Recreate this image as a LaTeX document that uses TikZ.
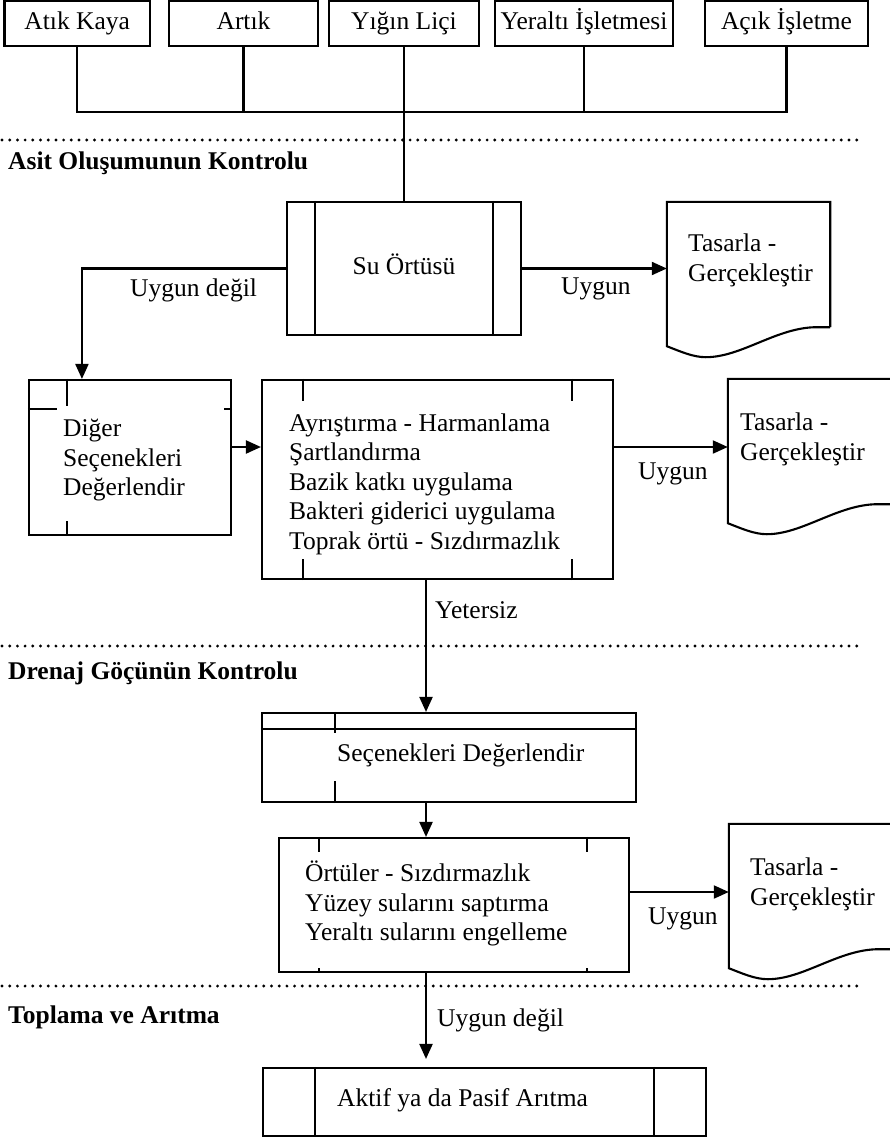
\documentclass[tikz,border=0pt]{standalone}
\usepackage{fontspec}
\setmainfont{Liberation Serif}
\usepackage{tikz}
\usetikzlibrary{calc}
\usetikzlibrary{arrows.meta}
\usetikzlibrary{positioning}
\newcommand{\bodyfont}{\fontsize{25.5}{29.5}\selectfont}
\tikzset{>={Triangle[length=15pt,width=13pt]}}
\tikzstyle{conn} = [line width=2.1pt]
\tikzstyle{box} = [draw, line width=2.1pt, rectangle, inner sep=0pt, text height=18pt, text depth=5.6pt]
\tikzstyle{doc} = [rectangle, inner sep=0pt, minimum width=163pt, minimum height=125pt]
\tikzstyle{txt} = [inner sep=0pt, align=left, anchor=north west]
\tikzstyle{lbl} = [inner sep=0pt, anchor=west, text height=18pt, text depth=5.6pt]
\tikzstyle{head} = [lbl, font=\bodyfont\bfseries]
\tikzstyle{sep} = [line width=3.2pt, dash pattern=on 0pt off 7.7pt, line cap=round]

\begin{document}
\begin{tikzpicture}[x=1pt, y=-1pt, font=\bodyfont]
\useasboundingbox (0,0) rectangle (890,1137);
% sources
\node [box, minimum width=145.5pt, minimum height=45pt] (atik) at (77.25, 23.5) {Atık Kaya};
\node [box, minimum width=149pt, minimum height=45pt] (artik) at (243.5, 23.5) {Artık};
\node [box, minimum width=150pt, minimum height=45pt] (yigin) at (404, 23.5) {Yığın Liçi};
\node [box, minimum width=178pt, minimum height=45pt] (yeralti) at (584, 23.5) {Yeraltı İşletmesi};
\node [box, minimum width=163pt, minimum height=45pt] (acik) at (786.5, 23.5) {Açık İşletme};
\coordinate (bus) at (404, 112);
\draw [conn] (atik.south) |- (bus) -| (acik.south);
\draw [conn] (artik.south) -- (artik.south |- bus);
\draw [conn] (yeralti.south) -- (yeralti.south |- bus);

% section separators
\foreach \y in {140, 646, 986}
  \draw [sep] (2, \y) -- (863, \y);
\node [head] (h1) at (8, 163) {Asit Oluşumunun Kontrolu};
\node [head] (h2) at (8, 673) {Drenaj Göçünün Kontrolu};
\node [head] (h3) at (8, 1017) {Toplama ve Arıtma};

% acid formation
\node [box, minimum width=234pt, minimum height=133pt] (su) at (404, 268.5) {Su Örtüsü};
\draw [conn] ($(su.north west)+(29,0)$) -- ($(su.south west)+(29,0)$);
\draw [conn] ($(su.north east)+(-29,0)$) -- ($(su.south east)+(-29,0)$);
\draw [conn] (yigin.south) -- (su.north);

\node [doc] (doc1) at (748.5, 264.5) {};
\node [doc] (doc2) at (809.5, 441.5) {};
\node [doc] (doc3) at (810.5, 886.5) {};
\foreach \d in {doc1, doc2, doc3}
  \draw [conn] (\d.south east) -- (\d.north east) -- (\d.north west)
    -- ($(\d.south west)+(0,19)$)
    .. controls ($(\d.south west)+(13,24)$) and ($(\d.south west)+(26,30)$) .. ($(\d.south west)+(39,30)$)
    .. controls ($(\d.south west)+(75,30)$) and ($(\d.south west)+(110,0)$) .. ($(\d.south west)+(150,0)$)
    -- (\d.south east);
\node [txt] (doc1T) at (688, 234) {Tasarla -\\Gerçekleştir};
\node [txt] (doc2T) at (740, 413) {Tasarla -\\Gerçekleştir};
\node [txt] (doc3T) at (750, 858) {Tasarla -\\Gerçekleştir};

\node [box, minimum width=202pt, minimum height=155pt] (diger) at (130, 457.5) {};
\draw [conn] ($(diger.north west)+(39,0)$) -- +(0,27);
\draw [conn] ($(diger.north west)+(0,30)$) -- +(29,0);
\draw [conn] ($(diger.north east)+(0,30)$) -- +(-8,0);
\draw [conn] ($(diger.south west)+(39,0)$) -- +(0,-15);
\node [txt] (digerT) at (63, 419) {Diğer\\Seçenekleri\\Değerlendir};

\node [box, minimum width=351pt, minimum height=199pt] (ayr) at (437.5, 479.5) {};
\foreach \a/\dx/\dy in {north west/42/22, north east/-42/22, south west/42/-21, south east/-42/-21}
  \draw [conn] ($(ayr.\a)+(\dx,0)$) -- +(0,\dy);
\node [txt] (ayrT) at (289, 413.5) {Ayrıştırma - Harmanlama\\Şartlandırma\\Bazik katkı uygulama\\Bakteri giderici uygulama\\Toprak örtü - Sızdırmazlık};

\draw [conn, ->] (su.west) -| ($(diger.north west)+(54,0)$);
\node [lbl] (lblNo1) at (130, 290) {Uygun değil};
\draw [conn, ->] (su.east) -- (su.east -| doc1.west);
\node [lbl] (lblOk1) at (561, 288) {Uygun};
\coordinate (rowA) at (0, 447);
\draw [conn, ->] (diger.east |- rowA) -- (ayr.west |- rowA);
\draw [conn, ->] (ayr.east |- rowA) -- (doc2.west |- rowA);
\node [lbl] (lblOk2) at (638, 473) {Uygun};

% drainage migration
\coordinate (spine) at (426, 0);
\node [box, minimum width=374pt, minimum height=89pt] (sec) at (449, 757.5) {};
\draw [conn] ($(sec.north west)+(0,17)$) -- ($(sec.north east)+(0,17)$);
\draw [conn] ($(sec.north west)+(74,0)$) -- +(0,21);
\draw [conn] ($(sec.south west)+(74,0)$) -- +(0,-22);
\node [lbl] (secT) at (337, 755) {Seçenekleri Değerlendir};
\draw [conn, ->] (ayr.south -| spine) -- (sec.north -| spine);
\node [lbl] (lblLow) at (435, 612) {Yetersiz};

\node [box, minimum width=350pt, minimum height=134pt] (ortu) at (454, 905) {};
\foreach \a/\dx/\dy in {north west/41/15, north east/-43/15, south west/41/-5, south east/-43/-5}
  \draw [conn] ($(ortu.\a)+(\dx,0)$) -- +(0,\dy);
\node [txt] (ortuT) at (305, 861) {Örtüler - Sızdırmazlık\\Yüzey sularını saptırma\\Yeraltı sularını engelleme};
\draw [conn, ->] (sec.south -| spine) -- (ortu.north -| spine);
\coordinate (rowB) at (0, 892);
\draw [conn, ->] (ortu.east |- rowB) -- (doc3.west |- rowB);
\node [lbl] (lblOk3) at (648, 918) {Uygun};

% collection and treatment
\node [box, minimum width=443pt, minimum height=68pt] (aktif) at (484.5, 1102) {};
\draw [conn] ($(aktif.north west)+(53,0)$) -- ($(aktif.south west)+(53,0)$);
\draw [conn] ($(aktif.north east)+(-53,0)$) -- ($(aktif.south east)+(-53,0)$);
\node [lbl] (aktifT) at (337, 1100) {Aktif ya da Pasif Arıtma};
\draw [conn, ->, shorten >=8pt] (ortu.south -| spine) -- (aktif.north -| spine);
\node [lbl] (lblNo2) at (437, 1020) {Uygun değil};
\end{tikzpicture}
\end{document}
